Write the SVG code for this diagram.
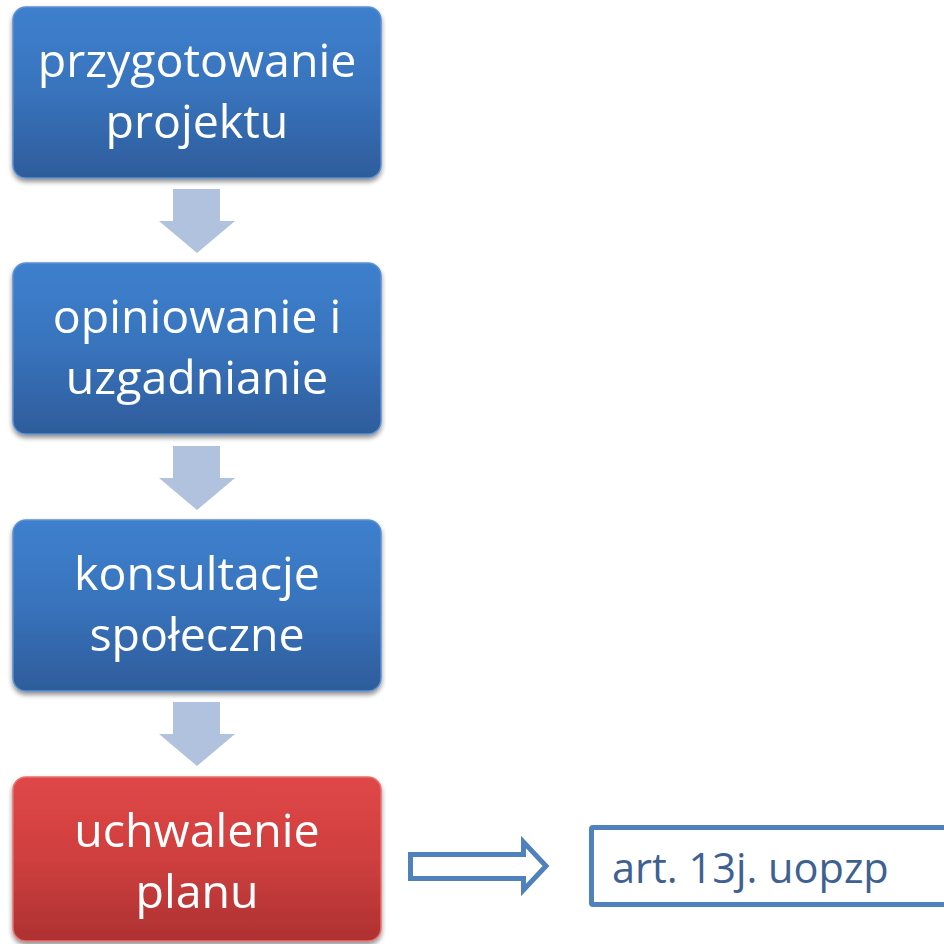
<svg xmlns="http://www.w3.org/2000/svg" width="944" height="944" viewBox="0 0 944 944">
<style>
.box{stroke-width:1.5}
.blue{fill:url(#gBlue);stroke:#5C8FD0}
.red{fill:url(#gRed);stroke:#E87070}
.lbl{font-family:"Open Sans","Noto Sans",sans-serif;font-size:46.5px;fill:#FFFFFF;text-anchor:middle}
.down{fill:#B0C2DD}
.note{font-family:"Open Sans","Noto Sans",sans-serif;font-size:41.5px;fill:#3E6192}
</style>
<defs>
<linearGradient id="gBlue" x1="0" y1="0" x2="0" y2="1">
<stop offset="0" stop-color="#3E80CE"/>
<stop offset="0.5" stop-color="#3873BC"/>
<stop offset="1" stop-color="#2E5C9B"/>
</linearGradient>
<linearGradient id="gRed" x1="0" y1="0" x2="0" y2="1">
<stop offset="0" stop-color="#E04747"/>
<stop offset="0.5" stop-color="#CF3F3F"/>
<stop offset="1" stop-color="#AE3131"/>
</linearGradient>
<filter id="sh" x="-10%" y="-10%" width="120%" height="130%">
<feGaussianBlur in="SourceAlpha" stdDeviation="2.5"/>
<feOffset dx="0" dy="3" result="b"/>
<feComponentTransfer><feFuncA type="linear" slope="0.45"/></feComponentTransfer>
<feMerge><feMergeNode/><feMergeNode in="SourceGraphic"/></feMerge>
</filter>
</defs>
<g id="connectors">
<polygon class="down" points="173,189 220,189 220,221 235,221 197,253 159,221 173,221"/>
<polygon class="down" points="173,446 220,446 220,478 235,478 197,510 159,478 173,478"/>
<polygon class="down" points="173,702 220,702 220,734 235,734 197,766 159,734 173,734"/>
<polygon points="410.5,854.5 523.5,854.5 523.5,842 546,866 523.5,890 523.5,878.5 410.5,878.5" fill="none" stroke="#4F81BD" stroke-width="5"/>
</g>
<g id="n1" filter="url(#sh)">
<rect class="box blue" x="13" y="7" width="368" height="171" rx="13"/>
<text class="lbl" x="197" y="77">przygotowanie</text>
<text class="lbl" x="197" y="138">projektu</text>
</g>
<g id="n2" filter="url(#sh)">
<rect class="box blue" x="13" y="263" width="368" height="171" rx="13"/>
<text class="lbl" x="197" y="333">opiniowanie i</text>
<text class="lbl" x="197" y="394">uzgadnianie</text>
</g>
<g id="n3" filter="url(#sh)">
<rect class="box blue" x="13" y="520" width="368" height="171" rx="13"/>
<text class="lbl" x="197" y="590">konsultacje</text>
<text class="lbl" x="197" y="651">społeczne</text>
</g>
<g id="n4" filter="url(#sh)">
<rect class="box red" x="13" y="777" width="368" height="164" rx="13"/>
<text class="lbl" x="197" y="847">uchwalenie</text>
<text class="lbl" x="197" y="908">planu</text>
</g>
<g id="n5">
<rect x="591.5" y="827.5" width="380" height="77" fill="#FFFFFF" stroke="#4F81BD" stroke-width="5" rx="1.5"/>
<text class="note" x="612" y="883">art. 13j. uopzp</text>
</g>
</svg>
